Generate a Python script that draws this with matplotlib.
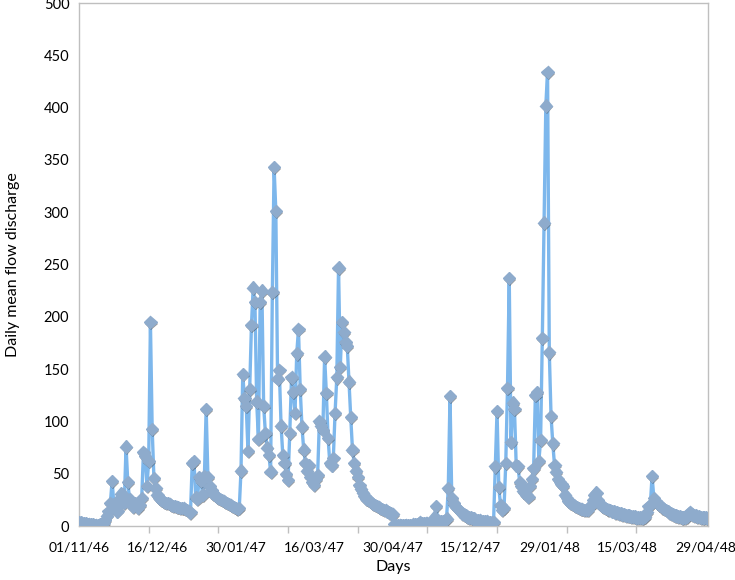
import numpy as np
import matplotlib
matplotlib.use("Agg")
import matplotlib.pyplot as plt
import matplotlib.patheffects as pe

# daily mean flow, season 1 (01/11/46 - 30/04/47)
season1 = [
    4, 4, 3, 3, 3, 2, 2, 2, 2, 1,            # 0
    1, 1, 2, 2, 3, 6, 10, 14, 22, 43,        # 10
    21, 17, 14, 26, 31, 30, 22, 76, 42, 26,  # 20
    22, 18, 22, 20, 17, 20, 27, 71, 67, 38,  # 30
    62, 195, 93, 46, 36, 30, 27, 25, 24, 23,  # 40
    22, 22, 21, 20, 19, 19, 18, 18, 17, 17,  # 50
    17, 16, 15, 14, 13, 60, 62, 28, 26, 47,  # 60
    43, 30, 48, 112, 47, 38, 34, 31, 30, 28,  # 70
    27, 26, 25, 24, 23, 22, 21, 20, 19, 18,  # 80
    17, 16, 17, 53, 145, 122, 115, 72, 131, 192,  # 90
    228, 214, 119, 83, 214, 225, 115, 89, 75, 68,  # 100
    52, 224, 343, 301, 141, 149, 96, 68, 60, 50,  # 110
    44, 89, 142, 128, 108, 165, 188, 131, 95, 73,  # 120
    60, 53, 58, 47, 42, 39, 45, 49, 100, 96,  # 130
    92, 162, 127, 84, 60, 58, 65, 108, 142, 247,  # 140
    152, 195, 185, 176, 172, 138, 104, 73, 60, 53,  # 150
    47, 39, 35, 32, 29, 26, 25, 24, 22, 21,  # 160
    20, 19, 18, 17, 16, 15, 15, 14, 13, 12,  # 170
    11,                                      # 180
]

# season 2 (01/11/47 - 30/04/48)
season2 = [
    2, 1, 1, 1, 1, 1, 1, 1, 1, 1,            # 181
    1, 2, 2, 2, 3, 4, 3, 3, 3, 3,            # 191
    2, 2, 3, 8, 19, 6, 4, 5, 5, 6,           # 201
    7, 36, 124, 27, 22, 19, 17, 15, 14, 12,  # 211
    11, 10, 9, 8, 8, 7, 7, 6, 6, 6,          # 221
    5, 5, 5, 5, 4, 4, 4, 4, 57, 110,         # 231
    37, 20, 15, 17, 60, 132, 237, 80, 118, 112,  # 241
    58, 57, 42, 38, 33, 35, 30, 28, 38, 45,  # 251
    55, 125, 128, 62, 82, 180, 290, 402, 434, 166,  # 261
    105, 79, 58, 52, 45, 42, 40, 38, 30, 27,  # 271
    24, 22, 21, 20, 19, 18, 17, 16, 16, 15,  # 281
    15, 15, 18, 20, 25, 30, 32, 25, 22, 19,  # 291
    18, 17, 16, 15, 15, 14, 14, 13, 13, 12,  # 301
    12, 11, 11, 10, 10, 10, 9, 9, 9, 8,      # 311
    8, 8, 8, 8, 9, 13, 19, 20, 48, 27,       # 321
    24, 22, 20, 19, 17, 16, 15, 14, 13, 12,  # 331
    11, 10, 10, 9, 9, 8, 8, 8, 9, 12,        # 341
    13, 11, 10, 10, 9, 9, 8, 8, 8, 8,        # 351
    7,                                       # 361
]

flow = season1 + season2
day_idx = np.arange(len(flow))

label_pos = [0, 45, 90, 135, 180, 225, 270, 315, 360]
label_txt = ["01/11/46", "16/12/46", "30/01/47", "16/03/47", "30/04/47",
             "15/12/47", "29/01/48", "15/03/48", "29/04/48"]

plt.rcParams["font.family"] = ["Lato", "DejaVu Sans"]

fig = plt.figure(figsize=(7.35, 5.8), dpi=100)
ax = fig.add_axes([0.1075, 0.0931, 0.8555, 0.9017])

ax.plot(day_idx, flow, color="#7db7ec", lw=2.4, zorder=2)
ax.plot(day_idx, flow, ls="none", marker="D", ms=6.3,
        mfc="#8eabcc", mec="#8eabcc", zorder=3,
        path_effects=[pe.SimplePatchShadow(offset=(0.7, -1.4), shadow_rgbFace="#333333", alpha=0.5),
                      pe.Normal()])

ax.set_xlim(0, 361)
ax.set_ylim(0, 500)
ax.set_yticks(np.arange(0, 501, 50))
ax.set_xticks(label_pos)
ax.set_xticklabels(label_txt)
ax.set_xticks(np.arange(0, 361, 40), minor=True)
ax.tick_params(axis="x", which="major", length=0, labelsize=10, pad=11)
ax.tick_params(axis="x", which="minor", length=5, color="#bfbfbf", width=1)
ax.tick_params(axis="y", length=0, labelsize=10.5, pad=7)

for s in ax.spines.values():
    s.set_color("#bfbfbf")
    s.set_linewidth(1)

ax.set_xlabel("Days", fontsize=11.5, labelpad=5)
ax.set_ylabel("Daily mean flow discharge", fontsize=11.5, labelpad=17)

fig.savefig("out.png", dpi=100)
